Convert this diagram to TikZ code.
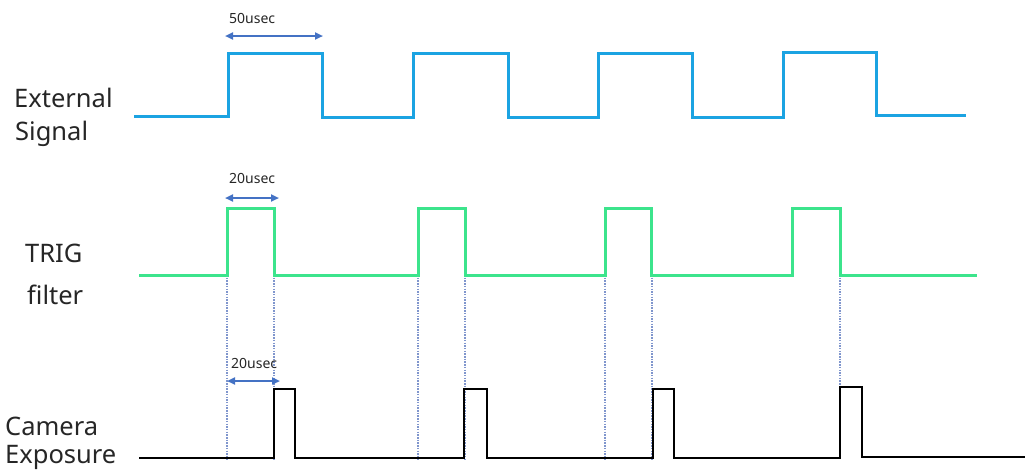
\documentclass[tikz,border=0pt]{standalone}
\usepackage{fontspec}
\setmainfont{Noto Sans}
\usetikzlibrary{arrows.meta}
\definecolor{sigblue}{RGB}{27,163,226}
\definecolor{triggreen}{RGB}{60,228,140}
\definecolor{arrblue}{RGB}{68,114,196}
\definecolor{dotblue}{RGB}{128,150,205}
\definecolor{txtgray}{RGB}{38,38,38}
\tikzset{
  biglabel/.style={anchor=base west, inner sep=0pt, text=txtgray, font=\fontsize{25.5}{30}\selectfont},
  smalllabel/.style={anchor=base west, inner sep=0pt, text=txtgray, font=\fontsize{14}{16}\selectfont},
  extwave/.style={draw=sigblue, line width=3pt},
  trigwave/.style={draw=triggreen, line width=3pt},
  camwave/.style={draw=black, line width=2.7pt},
  guide/.style={draw=dotblue, line width=1.1pt, dash pattern=on 1.5pt off 1.2pt},
  span/.style={draw=arrblue, line width=2pt, {Triangle[length=8pt,width=7pt]}-{Triangle[length=8pt,width=7pt]}}
}
\begin{document}
\begin{tikzpicture}[x=1pt,y=-1pt]
\useasboundingbox (0,0) rectangle (1025,472);
% labels
\node[biglabel] (ext1) at (14,107) {External};
\node[biglabel] (ext2) at (15,140) {Signal};
\node[biglabel] (trig1) at (25,262) {TRIG};
\node[biglabel] (trig2) at (27,304) {filter};
\node[biglabel] (cam1) at (5,435) {Camera};
\node[biglabel] (cam2) at (5,463) {Exposure};
% dotted guides
\coordinate (t1r) at (227,275); \coordinate (t1f) at (274,275);
\coordinate (t2r) at (418,275); \coordinate (t2f) at (465,275);
\coordinate (t3r) at (605,275); \coordinate (t3f) at (652,275);
\coordinate (t4f) at (840,275);
\coordinate (b1r) at (227,460); \coordinate (b1f) at (274,460);
\coordinate (b2r) at (418,460); \coordinate (b2f) at (465,460);
\coordinate (b3r) at (605,460); \coordinate (b3f) at (652,460);
\coordinate (b4f) at (840,387);
\path[guide] (t1r) -- (b1r) (t1f) -- (b1f) (t2r) -- (b2r) (t2f) -- (b2f)
  (t3r) -- (b3r) (t3f) -- (b3f) (t4f) -- (b4f);
% waveforms
\path[extwave] (134,116) -| (228,53) -| (322,117) -| (413,53) -| (508,117) -| (598,53) -| (692,117) -| (783,52) -| (876,115) -- (966,115);
\path[trigwave] (139,275) -| (227,208) -| (274,275) -| (418,208) -| (465,275) -| (605,208) -| (651,275) -| (792,208) -| (840,275) -- (977,275);
\path[camwave] (139,458) -| (274,389) -| (295,458) -| (464,389) -| (487,458) -| (653,389) -| (674,458) -| (840,387) -| (862,457) -- (1025,457);
% spans
\coordinate (a1l) at (225,36); \coordinate (a1r) at (323,36);
\coordinate (a2l) at (225,198); \coordinate (a2r) at (279,198);
\coordinate (a3l) at (227,381); \coordinate (a3r) at (280,381);
\path[span] (a1l) -- (a1r);
\path[span] (a2l) -- (a2r);
\path[span] (a3l) -- (a3r);
\node[smalllabel] (l50) at (229,23) {50usec};
\node[smalllabel] (l20a) at (229,183) {20usec};
\node[smalllabel] (l20b) at (231,368) {20usec};
\end{tikzpicture}
\end{document}
